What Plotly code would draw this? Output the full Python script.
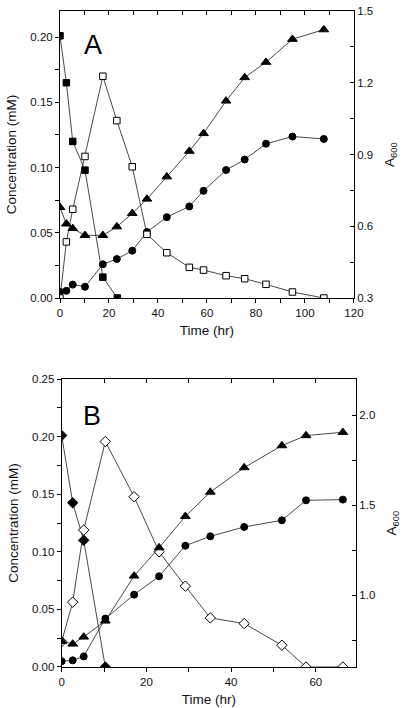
import plotly.graph_objects as go

# ---------------- Panel A data ----------------
timeA_filled_sq = [0, 2.6, 5.2, 10.2, 17.5, 23.4]
concA_filled_sq = [0.201, 0.165, 0.120, 0.098, 0.016, 0.0]

timeA = [0, 2.6, 5.2, 10.2, 17.5, 23.2, 29.5, 35.5, 43.6, 52.8, 58.6, 67.8, 75.4, 84.1, 94.9, 107.7]
concA_open_sq = [0.0, 0.043, 0.068, 0.1085, 0.170, 0.136, 0.1006, 0.0488, 0.0347, 0.0235,
                 0.0214, 0.0171, 0.0148, 0.0105, 0.0046, 0.0]
a600A_circle = [0.326, 0.330, 0.356, 0.347, 0.441, 0.463, 0.498, 0.576, 0.638, 0.683,
                0.748, 0.835, 0.879, 0.945, 0.975, 0.965]
a600A_triangle = [0.679, 0.610, 0.591, 0.562, 0.562, 0.598, 0.654, 0.714, 0.807, 0.914,
                  0.988, 1.124, 1.222, 1.286, 1.382, 1.422]

# ---------------- Panel B data ----------------
timeB = [0, 2.6, 5.2, 10.3, 17.1, 23, 29.2, 35.1, 43.1, 52, 57.7, 66.4]
timeB_filled_dia = [0, 2.6, 5.2, 10.3]
concB_filled_dia = [0.201, 0.1426, 0.110, 0.0]
concB_open_dia = [0.022, 0.0563, 0.1189, 0.1957, 0.1478, 0.100, 0.0702, 0.0426, 0.0377, 0.0189, 0.0, 0.0]
a600B_circle = [0.632, 0.637, 0.659, 0.869, 1.002, 1.104, 1.274, 1.326, 1.378, 1.415, 1.526, 1.530]
a600B_triangle = [0.743, 0.728, 0.767, 0.856, 1.106, 1.263, 1.437, 1.572, 1.708, 1.830, 1.886, 1.904]

FONT = "Liberation Sans, Arial, sans-serif"
LINE = dict(color="#1a1a1a", width=0.8)
TICKF = dict(family=FONT, size=11.5, color="#111")
TITLEF = dict(family=FONT, size=13.5, color="#111")


def tr(x, y, xa, ya, symbol, size, filled=True):
    return go.Scatter(
        x=x, y=y, xaxis=xa, yaxis=ya, mode="lines+markers",
        line=LINE,
        marker=dict(symbol=symbol, size=size,
                    color="black" if filled else "white",
                    line=dict(color="black", width=1.0)),
        showlegend=False, hoverinfo="skip")


fig = go.Figure()
# Panel A: A600 (main y, right) below, concentration (y2, left overlay) on top
fig.add_trace(tr(timeA, a600A_circle, "x", "y", "circle", 7))
fig.add_trace(tr(timeA, a600A_triangle, "x", "y", "triangle-up", 8.5))
fig.add_trace(tr(timeA_filled_sq, concA_filled_sq, "x", "y2", "square", 6.5))
fig.add_trace(tr(timeA, concA_open_sq, "x", "y2", "square", 6.5, filled=False))
fig.add_trace(go.Scatter(x=[None], y=[None], xaxis="x2", yaxis="y", showlegend=False))

# Panel B: concentration (main y3, left) below, A600 (y4 overlay, right) on top
fig.add_trace(tr(timeB_filled_dia, concB_filled_dia, "x3", "y3", "diamond", 8))
fig.add_trace(tr(timeB, concB_open_dia, "x3", "y3", "diamond", 8, filled=False))
fig.add_trace(tr(timeB, a600B_triangle, "x3", "y4", "triangle-up", 8.5))
fig.add_trace(tr(timeB, a600B_circle, "x3", "y4", "circle", 7))
fig.add_trace(go.Scatter(x=[None], y=[None], xaxis="x4", yaxis="y3", showlegend=False))

common = dict(showline=True, linecolor="black", linewidth=1, showgrid=False,
              zeroline=False, tickcolor="black", tickfont=TICKF, automargin=False)


def minor(dt, where, ln=3, t0=None):
    d = dict(dtick=dt, ticks=where, ticklen=ln, tickcolor="black", showgrid=False)
    if t0 is not None:
        d["tick0"] = t0
    return d


yA = [0.5625, 1.0]
yB = [0.0, 0.439]
xA = [0.0, 0.993]
xB = [0.0057, 1.0]

fig.update_layout(
    width=407, height=708,
    margin=dict(l=60, r=51, t=11, b=41),
    paper_bgcolor="white", plot_bgcolor="white",
    font=dict(family=FONT, color="#111"),
    hovermode=False,
    # ---- Panel A ----
    xaxis=dict(domain=xA, anchor="y", range=[0, 120], dtick=20, tick0=0,
               ticks="outside", ticklen=4, minor=minor(10, "outside", 4),
               title=dict(text="Time (hr)", font=TITLEF, standoff=7), **common),
    xaxis2=dict(domain=xA, anchor="y", overlaying="x", side="top", range=[0, 120],
                dtick=10, ticks="inside", ticklen=4, showticklabels=False, **common),
    yaxis=dict(domain=yA, anchor="x", side="right", range=[0.3, 1.5], dtick=0.3, tick0=0.3,
               tickformat=".1f", ticks="inside", ticklen=4,
               minor=minor(0.15, "inside", 4, 0.3),
               title=dict(text="A<sub>600</sub>", font=TITLEF, standoff=12), **common),
    yaxis2=dict(anchor="x", overlaying="y", side="left", range=[0, 0.22], dtick=0.05, tick0=0,
                tickformat=".2f", ticks="outside", ticklen=4,
                minor=minor(0.025, "outside", 4, 0),
                title=dict(text="Concentration (mM)", font=TITLEF, standoff=10), **common),
    # ---- Panel B ----
    xaxis3=dict(domain=xB, anchor="y3", range=[0, 69.5], dtick=20, tick0=0,
                ticks="outside", ticklen=4, minor=minor(10, "outside", 4),
                title=dict(text="Time (hr)", font=TITLEF, standoff=7), **common),
    xaxis4=dict(domain=xB, anchor="y3", overlaying="x3", side="top", range=[0, 69.5],
                dtick=10, ticks="inside", ticklen=4, showticklabels=False, **common),
    yaxis3=dict(domain=yB, anchor="x3", side="left", range=[0, 0.25], dtick=0.05, tick0=0,
                tickformat=".2f", ticks="outside", ticklen=4,
                minor=minor(0.025, "outside", 4, 0),
                title=dict(text="Concentration (mM)", font=TITLEF, standoff=10), **common),
    yaxis4=dict(anchor="x3", overlaying="y3", side="right", range=[0.6, 2.2], dtick=0.5, tick0=0,
                tickformat=".1f", ticks="inside", ticklen=4,
                minor=minor(0.25, "inside", 4, 0),
                title=dict(text="A<sub>600</sub>", font=TITLEF, standoff=12), **common),
    annotations=[
        dict(text="A", x=13.3, y=0.194, xref="x", yref="y2", showarrow=False,
             font=dict(family=FONT, size=27, color="black")),
        dict(text="B", x=7.1, y=0.218, xref="x3", yref="y3", showarrow=False,
             font=dict(family=FONT, size=27, color="black")),
    ],
)

fig.write_html(
    "out.html",
    config={"displayModeBar": False, "staticPlot": True},
    post_script="document.body.style.margin='0';document.body.style.overflow='hidden';",
)
